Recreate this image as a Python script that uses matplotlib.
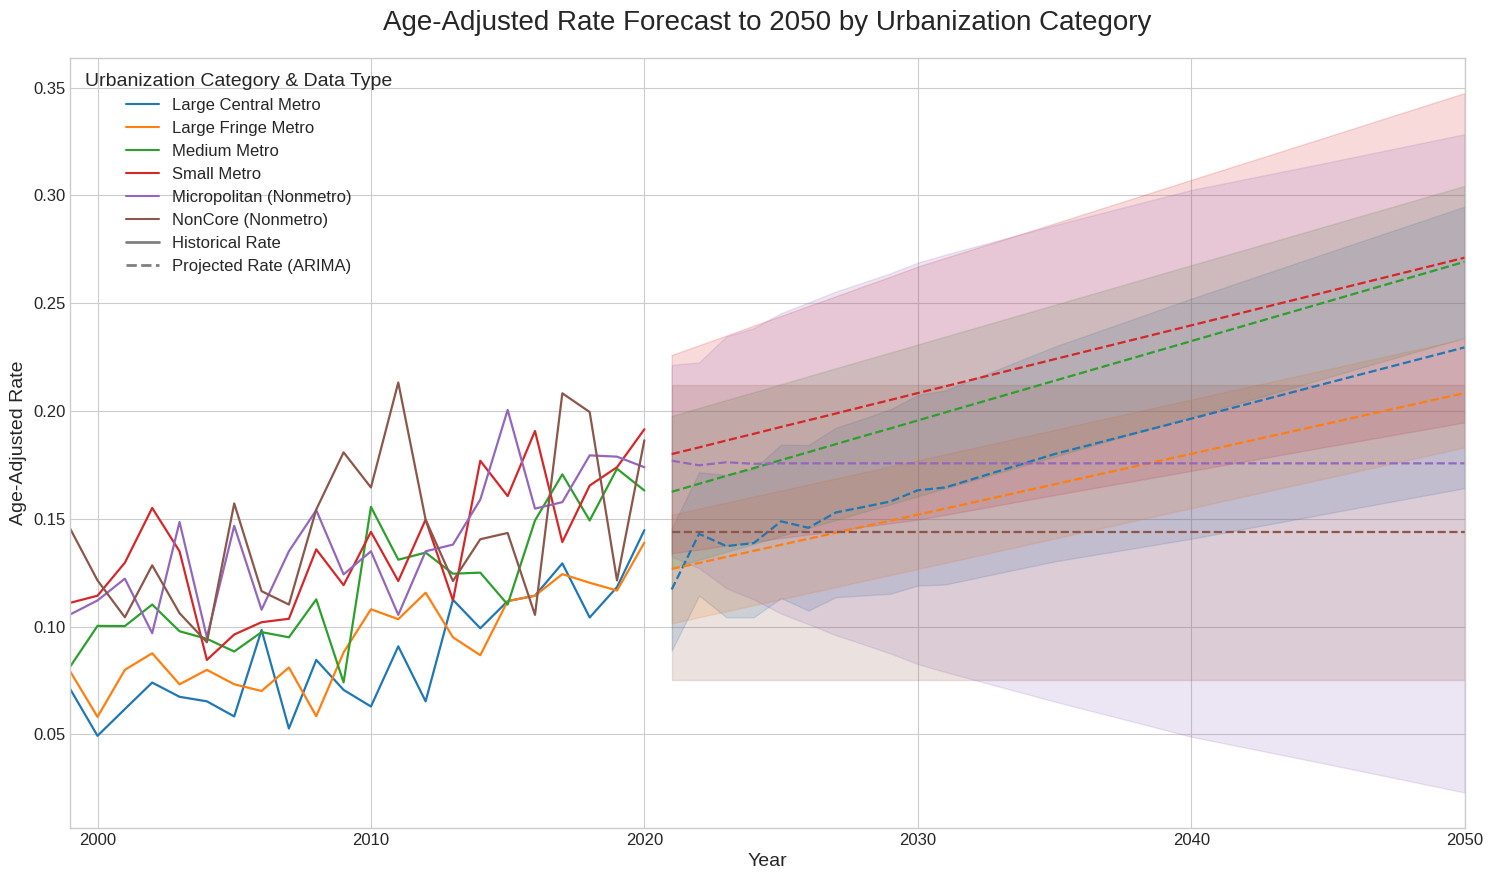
import matplotlib
matplotlib.use('Agg')
import matplotlib.pyplot as plt
from matplotlib.lines import Line2D

plt.style.use('seaborn-v0_8-whitegrid')
plt.rcParams['font.family'] = ['Liberation Sans', 'DejaVu Sans']

categories = ['Large Central Metro', 'Large Fringe Metro', 'Medium Metro',
              'Small Metro', 'Micropolitan (Nonmetro)', 'NonCore (Nonmetro)']
colors = ['#1f77b4', '#ff7f0e', '#2ca02c', '#d62728', '#9467bd', '#8c564b']

hist_years = list(range(1999, 2021))
hist_rates = {
    'Large Central Metro': [0.0710, 0.0493, 0.0617, 0.0740, 0.0674, 0.0653, 0.0583, 0.0984, 0.0527, 0.0845, 0.0706,
                            0.0629, 0.0908, 0.0653, 0.1124, 0.0992, 0.1118, 0.1143, 0.1293, 0.1042, 0.1183, 0.1447],
    'Large Fringe Metro': [0.0792, 0.0581, 0.0799, 0.0876, 0.0732, 0.0799, 0.0732, 0.0701, 0.0810, 0.0584, 0.0880,
                           0.1080, 0.1034, 0.1157, 0.0950, 0.0867, 0.1118, 0.1143, 0.1243, 0.1203, 0.1167, 0.1389],
    'Medium Metro': [0.0814, 0.1003, 0.1002, 0.1102, 0.0978, 0.0943, 0.0884, 0.0974, 0.0950, 0.1126, 0.0741,
                     0.1555, 0.1310, 0.1343, 0.1245, 0.1250, 0.1102, 0.1492, 0.1706, 0.1492, 0.1732, 0.1631],
    'Small Metro': [0.1110, 0.1143, 0.1296, 0.1550, 0.1349, 0.0845, 0.0963, 0.1020, 0.1036, 0.1358, 0.1192,
                    0.1439, 0.1211, 0.1496, 0.1121, 0.1769, 0.1605, 0.1907, 0.1392, 0.1654, 0.1739, 0.1915],
    'Micropolitan (Nonmetro)': [0.1056, 0.1121, 0.1222, 0.0969, 0.1485, 0.0950, 0.1467, 0.1078, 0.1349, 0.1540, 0.1242,
                                0.1349, 0.1054, 0.1349, 0.1380, 0.1589, 0.2005, 0.1547, 0.1577, 0.1794, 0.1788, 0.1739],
    'NonCore (Nonmetro)': [0.1454, 0.1214, 0.1043, 0.1284, 0.1062, 0.0927, 0.1571, 0.1164, 0.1102, 0.1543, 0.1808,
                           0.1645, 0.2132, 0.1496, 0.1211, 0.1405, 0.1434, 0.1054, 0.2082, 0.1995, 0.1214, 0.1864],
}

# forecast read at these years (lines are straight between them)
fc_years = [2021, 2022, 2023, 2024, 2025, 2026, 2027, 2028, 2029, 2030, 2031, 2035, 2040, 2045, 2050]
fc_mean = {
    'Large Central Metro': [0.1172, 0.1430, 0.1373, 0.1387, 0.1488, 0.1458, 0.1529, 0.1554, 0.1580, 0.1632, 0.1645,
                            0.1800, 0.1964, 0.2130, 0.2295],
    'Large Fringe Metro': [0.1267, 0.1295, 0.1323, 0.1351, 0.1379, 0.1407, 0.1435, 0.1463, 0.1491, 0.1519, 0.1547,
                           0.1660, 0.1801, 0.1942, 0.2083],
    'Medium Metro': [0.1625, 0.1662, 0.1699, 0.1735, 0.1772, 0.1809, 0.1846, 0.1883, 0.1919, 0.1956, 0.1993,
                     0.2140, 0.2324, 0.2508, 0.2692],
    'Small Metro': [0.1800, 0.1831, 0.1863, 0.1894, 0.1926, 0.1957, 0.1988, 0.2020, 0.2051, 0.2083, 0.2114,
                    0.2240, 0.2397, 0.2554, 0.2711],
    'Micropolitan (Nonmetro)': [0.1769, 0.1748, 0.1762, 0.1755, 0.1757, 0.1757, 0.1757, 0.1757, 0.1757, 0.1757, 0.1757,
                                0.1757, 0.1757, 0.1757, 0.1757],
    'NonCore (Nonmetro)': [0.1437] * 15,
}
fc_lower = {
    'Large Central Metro': [0.0888, 0.1144, 0.1043, 0.1043, 0.1132, 0.1074, 0.1136, 0.1144, 0.1152, 0.1190, 0.1195,
                            0.1302, 0.1407, 0.1525, 0.1642],
    'Large Fringe Metro': [0.1015, 0.1043, 0.1071, 0.1099, 0.1127, 0.1155, 0.1183, 0.1211, 0.1239, 0.1267, 0.1295,
                           0.1408, 0.1549, 0.1690, 0.1831],
    'Medium Metro': [0.1273, 0.1310, 0.1347, 0.1383, 0.1420, 0.1457, 0.1494, 0.1531, 0.1567, 0.1604, 0.1641,
                     0.1788, 0.1972, 0.2156, 0.2340],
    'Small Metro': [0.1340, 0.1357, 0.1376, 0.1392, 0.1411, 0.1427, 0.1444, 0.1462, 0.1479, 0.1496, 0.1518,
                    0.1610, 0.1722, 0.1835, 0.1947],
    'Micropolitan (Nonmetro)': [0.1324, 0.1271, 0.1178, 0.1126, 0.1060, 0.1011, 0.0960, 0.0918, 0.0875, 0.0826, 0.0789,
                                0.0652, 0.0489, 0.0361, 0.0230],
    'NonCore (Nonmetro)': [0.0750] * 15,
}
fc_upper = {
    'Large Central Metro': [0.1456, 0.1716, 0.1703, 0.1731, 0.1844, 0.1842, 0.1922, 0.1964, 0.2008, 0.2074, 0.2095,
                            0.2298, 0.2521, 0.2735, 0.2948],
    'Large Fringe Metro': [0.1519, 0.1547, 0.1575, 0.1603, 0.1631, 0.1659, 0.1687, 0.1715, 0.1743, 0.1771, 0.1799,
                           0.1912, 0.2053, 0.2194, 0.2335],
    'Medium Metro': [0.1977, 0.2014, 0.2051, 0.2087, 0.2124, 0.2161, 0.2198, 0.2235, 0.2271, 0.2308, 0.2345,
                     0.2492, 0.2676, 0.2860, 0.3044],
    'Small Metro': [0.2260, 0.2305, 0.2350, 0.2396, 0.2441, 0.2487, 0.2532, 0.2578, 0.2623, 0.2670, 0.2710,
                    0.2870, 0.3072, 0.3273, 0.3475],
    'Micropolitan (Nonmetro)': [0.2214, 0.2225, 0.2346, 0.2384, 0.2454, 0.2503, 0.2554, 0.2596, 0.2639, 0.2688, 0.2725,
                                0.2862, 0.3025, 0.3153, 0.3284],
    'NonCore (Nonmetro)': [0.2120] * 15,
}

fig = plt.figure(figsize=(14.93, 8.8), dpi=100)
ax = fig.add_subplot(111)

for cat, col in zip(categories, colors):
    ax.plot(hist_years, hist_rates[cat], color=col, linewidth=1.6)
    ax.plot(fc_years, fc_mean[cat], color=col, linewidth=1.6, linestyle='--')
    ax.fill_between(fc_years, fc_lower[cat], fc_upper[cat], color=col, alpha=0.17)

ax.set_xlim(1999, 2050)
ax.set_ylim(0.0065, 0.3637)
ax.set_title('Age-Adjusted Rate Forecast to 2050 by Urbanization Category', fontsize=20, pad=20)
ax.set_xlabel('Year', fontsize=14, labelpad=4)
ax.set_ylabel('Age-Adjusted Rate', fontsize=14)
ax.tick_params(axis='both', labelsize=12)

handles = [Line2D([0], [0], color=c, linewidth=1.5) for c in colors]
handles.append(Line2D([0], [0], color='gray', linewidth=2))
handles.append(Line2D([0], [0], color='gray', linewidth=2, linestyle='--'))
labels = categories + ['Historical Rate', 'Projected Rate (ARIMA)']
leg = ax.legend(handles, labels, title='Urbanization Category & Data Type', loc='upper left',
                fontsize=12, title_fontsize=14, labelspacing=0.48)

fig.subplots_adjust(left=0.047, right=0.981, top=0.934, bottom=0.059)
fig.savefig('out.png', dpi=100)
